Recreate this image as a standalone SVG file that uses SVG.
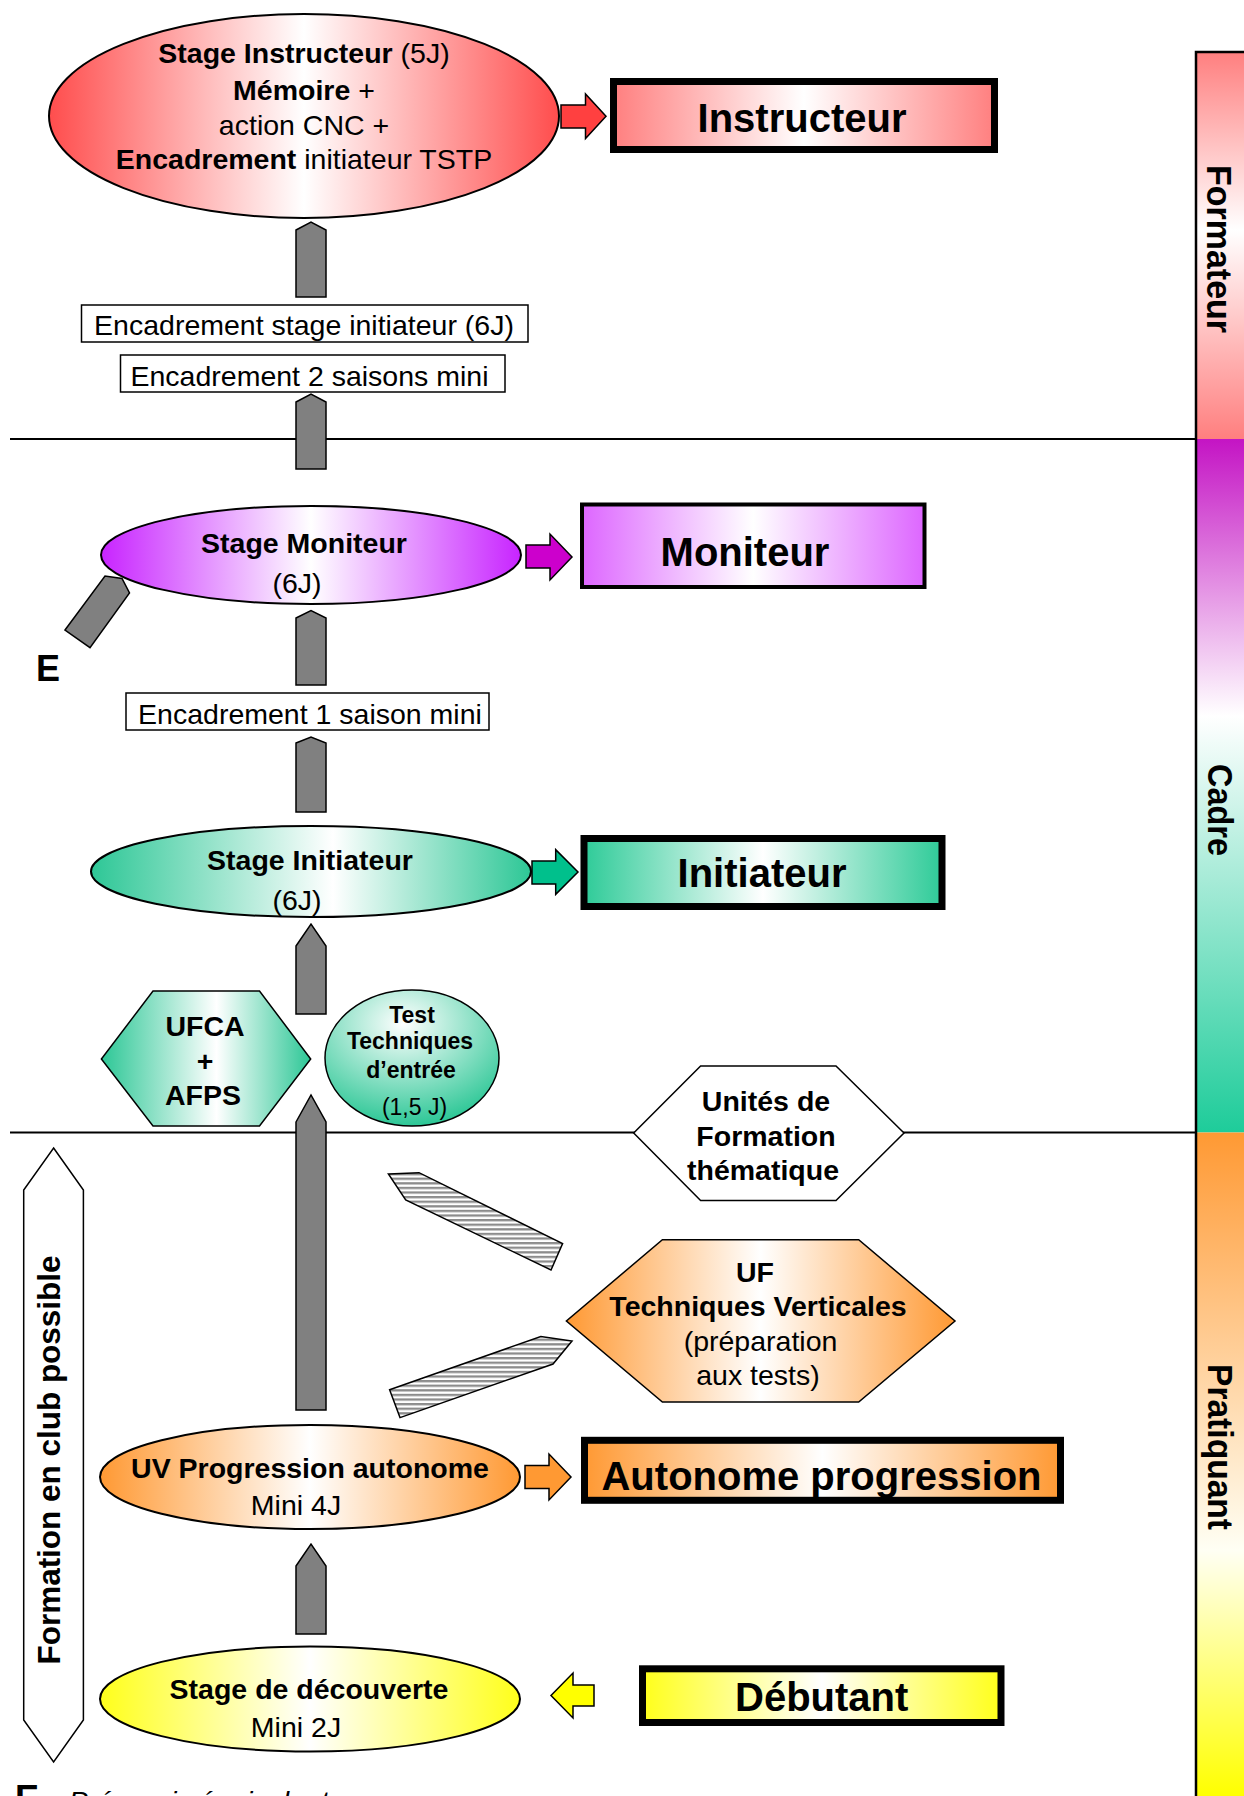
<svg xmlns="http://www.w3.org/2000/svg" width="1244" height="1796" viewBox="0 0 1244 1796">
<defs>
<style>
.t{font-family:"Liberation Sans",Arial,Helvetica,sans-serif;font-size:28.5px;text-anchor:middle;fill:#000}
.b{font-weight:bold}
.r{font-weight:normal}
.big{font-size:40px;font-weight:bold}
.sm{font-size:23px}
.side{font-size:35px;font-weight:bold}
.ol{stroke:#000;stroke-width:2}
.thin{stroke:#000;stroke-width:1.5}
.ga{fill:#808080;stroke:#000;stroke-width:1.5;stroke-linejoin:miter}
.st{fill:url(#stripes);stroke:#000;stroke-width:1.5}
.div{stroke:#000;stroke-width:2;fill:none}
</style>
<linearGradient id="gRedE" x1="0" y1="0" x2="1" y2="0"><stop offset="0" stop-color="#FF4D4D"/><stop offset="0.5" stop-color="#FFFFFF"/><stop offset="1" stop-color="#FF4D4D"/></linearGradient>
<linearGradient id="gRedB" x1="0" y1="0" x2="1" y2="0"><stop offset="0" stop-color="#FF7F7F"/><stop offset="0.5" stop-color="#FFFFFF"/><stop offset="1" stop-color="#FF7F7F"/></linearGradient>
<linearGradient id="gVioE" x1="0" y1="0" x2="1" y2="0"><stop offset="0" stop-color="#C824FF"/><stop offset="0.5" stop-color="#FFFFFF"/><stop offset="1" stop-color="#C824FF"/></linearGradient>
<linearGradient id="gVioB" x1="0" y1="0" x2="1" y2="0"><stop offset="0" stop-color="#DD66FF"/><stop offset="0.5" stop-color="#FFFFFF"/><stop offset="1" stop-color="#DD66FF"/></linearGradient>
<linearGradient id="gTeal" x1="0" y1="0" x2="1" y2="0"><stop offset="0" stop-color="#2DC796"/><stop offset="0.55" stop-color="#FFFFFF"/><stop offset="1" stop-color="#2DC796"/></linearGradient>
<linearGradient id="gTealB" x1="0" y1="0" x2="1" y2="0"><stop offset="0" stop-color="#2ECB98"/><stop offset="0.5" stop-color="#FFFFFF"/><stop offset="1" stop-color="#2ECB98"/></linearGradient>
<radialGradient id="gTest" cx="0.45" cy="0.25" r="0.75"><stop offset="0" stop-color="#FFFFFF"/><stop offset="1" stop-color="#2DC796"/></radialGradient>
<linearGradient id="gOr" x1="0" y1="0" x2="1" y2="0"><stop offset="0" stop-color="#FF9933"/><stop offset="0.5" stop-color="#FFFFFF"/><stop offset="1" stop-color="#FF9933"/></linearGradient>
<linearGradient id="gYe" x1="0" y1="0" x2="1" y2="0"><stop offset="0" stop-color="#FFFF1A"/><stop offset="0.5" stop-color="#FFFFFF"/><stop offset="1" stop-color="#FFFF1A"/></linearGradient>
<linearGradient id="gBar1" gradientUnits="userSpaceOnUse" x1="0" y1="52" x2="0" y2="439"><stop offset="0" stop-color="#FF7F7F"/><stop offset="0.46" stop-color="#FFFFFF"/><stop offset="1" stop-color="#FF7F7F"/></linearGradient>
<linearGradient id="gBar2" gradientUnits="userSpaceOnUse" x1="0" y1="439" x2="0" y2="1132"><stop offset="0" stop-color="#C414C4"/><stop offset="0.4" stop-color="#FFFFFF"/><stop offset="1" stop-color="#1ECC9A"/></linearGradient>
<linearGradient id="gBar3" gradientUnits="userSpaceOnUse" x1="0" y1="1132" x2="0" y2="1796"><stop offset="0" stop-color="#FF9933"/><stop offset="0.63" stop-color="#FFFFF4"/><stop offset="1" stop-color="#FFFF00"/></linearGradient>
<pattern id="stripes" patternUnits="userSpaceOnUse" width="10" height="4.6"><rect width="10" height="4.6" fill="#FFFFFF"/><rect y="0" width="10" height="2.3" fill="#8C8C8C"/></pattern>
</defs>

<rect width="1244" height="1796" fill="#FFFFFF"/>

<!-- level dividers -->
<line class="div" x1="10" y1="439" x2="1196" y2="439"/>
<line class="div" x1="10" y1="1132.5" x2="1196" y2="1132.5"/>

<!-- side bar -->
<g id="sidebar">
<rect x="1196" y="52" width="60" height="387" fill="url(#gBar1)"/>
<rect x="1196" y="439" width="60" height="693.5" fill="url(#gBar2)"/>
<rect x="1196" y="1132.5" width="60" height="680" fill="url(#gBar3)"/>
<path d="M1196,1800 V52 H1250" fill="none" stroke="#000" stroke-width="2.5"/>
<text class="t side" transform="translate(1207,249) rotate(90)" textLength="168" lengthAdjust="spacingAndGlyphs">Formateur</text>
<text class="t side" transform="translate(1208,810) rotate(90)" textLength="92" lengthAdjust="spacingAndGlyphs">Cadre</text>
<text class="t side" transform="translate(1208,1447) rotate(90)" textLength="166" lengthAdjust="spacingAndGlyphs">Pratiquant</text>
</g>

<!-- connectors -->
<g id="connectors">
<polygon class="ga" points="296,230 311,222 326,230 326,297 296,297"/>
<polygon class="ga" points="296,402 311,394 326,402 326,469 296,469"/>
<polygon class="ga" points="296,618 311,610.5 326,618 326,685 296,685"/>
<polygon class="ga" points="296,743 311,737 326,743 326,812 296,812"/>
<polygon class="ga" points="296,946 311,924 326,946 326,1014 296,1014"/>
<polygon class="ga" points="296,1122 311,1095 326,1122 326,1410 296,1410"/>
<polygon class="ga" points="296,1566 311,1544 326,1566 326,1634 296,1634"/>
<polygon class="ga" points="65,630 105,576 122,578.5 129.5,593 90,647.6"/>
<polygon class="st" points="388.4,1174 419,1172.7 562.6,1243.5 551,1270 405.7,1200"/>
<polygon class="st" points="389.6,1389.7 540.8,1336.5 572,1341 553,1364 400,1417.6"/>
<polygon class="thin" fill="#FF4040" points="561,105 585.5,105 585.5,94 606,116.3 585.5,138.5 585.5,128 561,128"/>
<polygon class="thin" fill="#CC00CC" points="526,545 550,545 550,534 572,557 550,580 550,568 526,568"/>
<polygon class="thin" fill="#00C08C" points="532,861 555.7,861 555.7,849.6 578,872 555.7,894.4 555.7,884 532,884"/>
<polygon class="thin" fill="#FF9933" points="525,1465.5 549,1465.5 549,1454 571,1477 549,1500 549,1488.5 525,1488.5"/>
<polygon class="thin" fill="#FFFF00" points="594,1685 573,1685 573,1673 551,1695.5 573,1718 573,1706 594,1706"/>
</g>

<!-- nodes -->
<g id="stage-instructeur">
<ellipse class="ol" cx="304" cy="116" rx="255" ry="102" fill="url(#gRedE)"/>
<text class="t" x="304" y="63"><tspan class="b">Stage Instructeur</tspan> (5J)</text>
<text class="t" x="304" y="99.5"><tspan class="b">Mémoire</tspan> +</text>
<text class="t" x="304" y="135">action CNC +</text>
<text class="t" x="304" y="169"><tspan class="b">Encadrement</tspan> initiateur TSTP</text>
</g>

<g id="instructeur">
<rect x="613.5" y="81.5" width="381" height="68" fill="url(#gRedB)" stroke="#000" stroke-width="7"/>
<text class="t big" x="802" y="132">Instructeur</text>
</g>

<g id="enc-stage-init">
<rect class="thin" x="81.5" y="305" width="446.5" height="37" fill="#FFFFFF"/>
<text class="t" x="304" y="335">Encadrement stage initiateur (6J)</text>
</g>

<g id="enc-2-saisons">
<rect class="thin" x="120.5" y="355" width="384.5" height="37" fill="#FFFFFF"/>
<text class="t" x="309.5" y="386">Encadrement 2 saisons mini</text>
</g>

<g id="stage-moniteur">
<ellipse class="ol" cx="311" cy="555" rx="210" ry="49" fill="url(#gVioE)"/>
<text class="t b" x="304" y="553">Stage Moniteur</text>
<text class="t" x="297" y="593">(6J)</text>
</g>

<g id="moniteur">
<rect x="582" y="504.5" width="342.5" height="82.5" fill="url(#gVioB)" stroke="#000" stroke-width="4"/>
<text class="t big" x="745" y="566">Moniteur</text>
</g>

<g id="equiv">
<text class="t b" x="36" y="681" font-size="36" style="text-anchor:start;font-size:36px">E</text>
</g>

<g id="enc-1-saison">
<rect class="thin" x="126" y="693" width="363" height="37" fill="#FFFFFF"/>
<text class="t" x="310" y="724">Encadrement 1 saison mini</text>
</g>

<g id="stage-initiateur">
<ellipse class="ol" cx="311" cy="871.5" rx="220" ry="45.5" fill="url(#gTeal)"/>
<text class="t b" x="310" y="869.5">Stage Initiateur</text>
<text class="t" x="297" y="910">(6J)</text>
</g>

<g id="initiateur">
<rect x="584" y="838.5" width="358" height="68" fill="url(#gTealB)" stroke="#000" stroke-width="7"/>
<text class="t big" x="762" y="887">Initiateur</text>
</g>

<g id="ufca">
<polygon class="thin" points="153,991 259.5,991 310.7,1059 259.5,1126 153,1126 101.4,1059" fill="url(#gTeal)"/>
<text class="t b" x="205" y="1036">UFCA</text>
<text class="t b" x="205" y="1070.5">+</text>
<text class="t b" x="203" y="1105">AFPS</text>
</g>

<g id="test">
<ellipse class="thin" cx="412" cy="1058" rx="87" ry="68" fill="url(#gTest)"/>
<text class="t sm b" x="412" y="1023.4">Test</text>
<text class="t sm b" x="410" y="1049.4">Techniques</text>
<text class="t sm b" x="411" y="1078">d’entrée</text>
<text class="t sm" x="414.5" y="1114.5">(1,5 J)</text>
</g>

<g id="unites">
<polygon class="thin" points="700.6,1066 836,1066 904,1133 836,1200.6 700.6,1200.6 633.7,1133" fill="#FFFFFF"/>
<text class="t b" x="766" y="1110.6">Unités de</text>
<text class="t b" x="766" y="1146">Formation</text>
<text class="t b" x="763" y="1180">thématique</text>
</g>

<g id="uf-tv">
<polygon class="thin" points="662.4,1239.7 858.7,1239.7 955,1321 858.7,1402 662.4,1402 566.4,1321" fill="url(#gOr)"/>
<text class="t b" x="755" y="1281.8">UF</text>
<text class="t b" x="758" y="1316">Techniques Verticales</text>
<text class="t" x="760.5" y="1350.7">(préparation</text>
<text class="t" x="758" y="1385">aux tests)</text>
</g>

<g id="uv-progression">
<ellipse class="ol" cx="310" cy="1477" rx="210" ry="52" fill="url(#gOr)"/>
<text class="t b" x="310" y="1478">UV Progression autonome</text>
<text class="t" x="296" y="1515">Mini 4J</text>
</g>

<g id="autonome">
<rect x="584.5" y="1440.3" width="476" height="60" fill="url(#gOr)" stroke="#000" stroke-width="7"/>
<text class="t big" x="821.5" y="1490">Autonome progression</text>
</g>

<g id="decouverte">
<ellipse class="ol" cx="310" cy="1699" rx="210" ry="52.5" fill="url(#gYe)"/>
<text class="t b" x="309" y="1699">Stage de découverte</text>
<text class="t" x="296" y="1736.7">Mini 2J</text>
</g>

<g id="debutant">
<rect x="642.5" y="1668.8" width="358.5" height="53.7" fill="url(#gYe)" stroke="#000" stroke-width="7"/>
<text class="t big" x="821.7" y="1711">Débutant</text>
</g>

<g id="club">
<polygon class="thin" points="53.6,1148 83.4,1190 83.4,1720 53.6,1762 23.7,1720 23.7,1190" fill="#FFFFFF"/>
<text class="t b" transform="translate(60,1460) rotate(-90)" style="font-size:31.5px" textLength="409" lengthAdjust="spacingAndGlyphs">Formation en club possible</text>
</g>

<g id="legend">
<text class="t" x="15" y="1811" style="text-anchor:start"><tspan class="b" style="font-size:36px">E</tspan><tspan style="font-style:italic" dx="6"> : Prérequis équivalents</tspan></text>
</g>
</svg>
